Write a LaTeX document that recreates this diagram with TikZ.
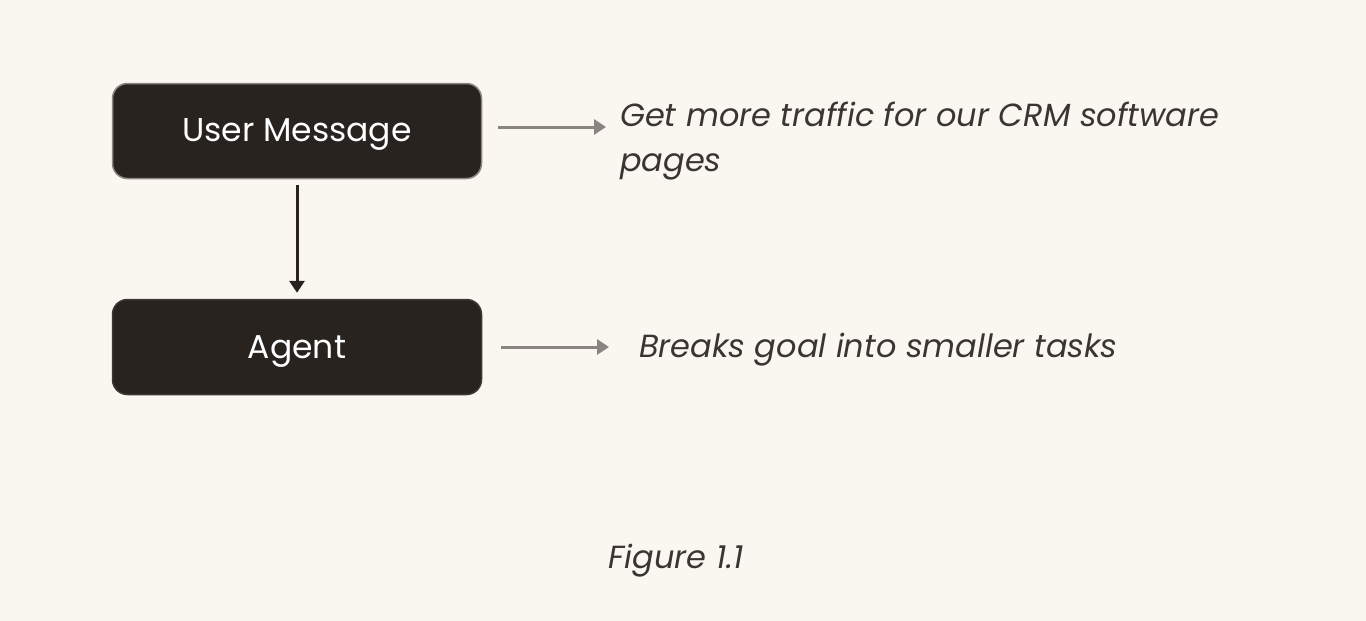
\documentclass[tikz,border=0pt]{standalone}
\usepackage{fontspec}
\setmainfont{Poppins}
\usetikzlibrary{arrows.meta}
\definecolor{bg}{HTML}{FAF6F0}
\definecolor{boxfill}{HTML}{28231F}
\definecolor{boxline}{HTML}{8C8782}
\definecolor{grayarrow}{HTML}{8A8580}
\definecolor{txt}{HTML}{3A3532}
\tikzset{
  box/.style={draw=boxline, line width=1.5pt, fill=boxfill, rounded corners=15pt, minimum width=369pt, minimum height=95pt, text=white, font=\fontsize{33}{38}\selectfont, inner sep=0pt, text depth=0pt},
  garrow/.style={draw=grayarrow, line width=3pt, -{Triangle[length=12pt,width=15pt]}},
  darrow/.style={draw=boxfill, line width=3pt, -{Triangle[length=12pt,width=15pt]}},
  desc/.style={text=txt, font=\fontsize{32}{45}\selectfont\itshape, anchor=base west, inner sep=0pt}
}
\begin{document}
\begin{tikzpicture}[x=1pt,y=-1pt]
\useasboundingbox[fill=bg] (0,0) rectangle (1366,621);
\node[box, text height=20pt] (um) at (297,131) {User Message};
\node[box, text height=22pt, draw=boxfill!80!boxline] (ag) at (297,347) {Agent};
\coordinate (a1s) at (498,127);
\coordinate (a1e) at (606,127);
\coordinate (a2s) at (501,347);
\coordinate (a2e) at (609,347);
\draw[garrow] (a1s) -- (a1e);
\draw[garrow] (a2s) -- (a2e);
\draw[darrow] ([yshift=-6pt]um.south) -- ([yshift=6pt]ag.north);
\node[desc] (t1) at (620,126) {Get more traffic for our CRM software};
\node[desc] (t1b) at (620,171) {pages};
\node[desc] (t2) at (639,357) {Breaks goal into smaller tasks};
\node[desc, anchor=base] (fig) at (676,568) {Figure 1.1};
\end{tikzpicture}
\end{document}
